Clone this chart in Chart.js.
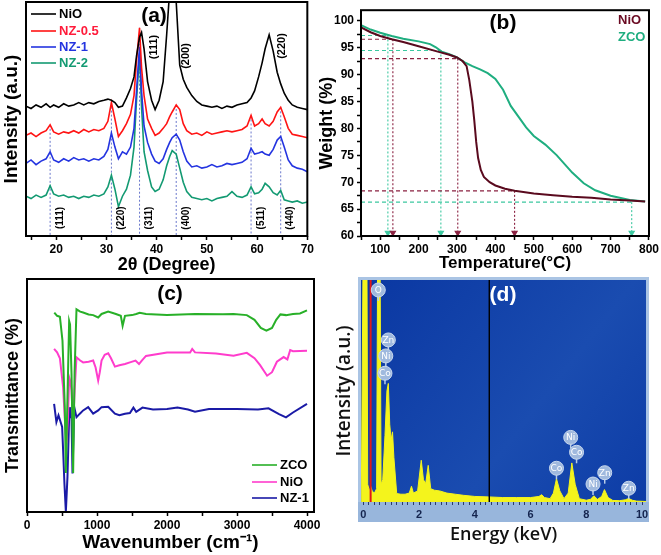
<!DOCTYPE html>
<html>
<head>
<meta charset="utf-8">
<script src="https://cdn.jsdelivr.net/npm/chart.js@4.4.0/dist/chart.umd.min.js"></script>
<style>
body { margin: 0; background: #fff; width: 661px; height: 555px; position: relative; overflow: hidden; }
canvas { position: absolute; }
</style>
</head>
<body>
<canvas id="xrd" width="316" height="278" style="left:0;top:0"></canvas>
<canvas id="tga" width="345" height="278" style="left:316px;top:0"></canvas>
<canvas id="ftir" width="330" height="278" style="left:0;top:277px"></canvas>
<canvas id="edx" width="331" height="279" style="left:330px;top:276px"></canvas>
<script>
// ---- (a) XRD ----
var xrdAngle = [14, 15, 16, 17, 18, 18.8, 19.5, 20.5, 21.5, 22.5, 23.5, 24.5, 25.5, 26.5, 27.5, 28.5, 29.5,
  30.3, 31.0, 31.7, 32.4, 33.2, 34, 34.8, 35.5, 36, 36.6, 37.0, 37.5, 38.2, 39, 39.7, 40.5, 41.3, 42, 42.6, 43.1,
  43.9, 44.6, 45.3, 46, 47, 48, 49, 50, 51, 52, 53, 54, 55, 56, 57, 58, 58.8, 59.5, 60.3, 61, 61.6, 62.4, 63.2, 64,
  64.7, 65.4, 66.2, 67, 68, 69, 70];
var nioXrd = [55.5, 54.5, 56, 55, 56.5, 55, 56, 55, 56.5, 55.5, 56, 57, 56, 57, 56.5, 57.5, 58,
  58.5, 58, 57, 55, 55.5, 59, 63, 68, 77, 85, 87, 80, 66, 58, 54, 58, 66, 86, 105, 112,
  100, 73, 67, 63.5, 60, 57.5, 56, 55.5, 55, 55.5, 54.5, 55.5, 55, 56, 56.5, 57, 59, 62, 68, 74, 80, 86, 79, 70,
  65, 61, 58, 56, 55, 54.5, 54];
var nz05Xrd = [43, 44, 42.5, 44, 45, 47.5, 44.5, 43.5, 44.5, 44, 45, 44, 45.5, 44.5, 45.5, 45, 46,
  49, 57, 50, 42.5, 45, 48, 52, 60, 75, 89, 72, 60, 50, 46, 43, 44, 46, 48, 51, 53,
  56, 54, 48, 45, 43.5, 44, 43, 44.5, 43.5, 44, 44.5, 45, 44.5, 45, 45.5, 47, 51.5, 47, 48, 50, 48, 47, 49, 53,
  55, 51, 46, 43.5, 43, 42.5, 42];
var nz1Xrd = [31, 32.5, 30.5, 32, 33, 36, 32.5, 31.5, 33, 32, 33.5, 32.5, 33, 32, 33, 32.5, 34,
  37, 44, 38, 33, 36, 35, 38, 46, 62, 81, 62, 47, 40, 35, 32, 31, 33, 37, 40, 42,
  43.5, 41, 36, 32, 29.5, 30, 29, 29.5, 30.5, 29.5, 30, 31, 30.5, 31, 31.5, 33, 37.5, 35, 35.5, 36, 35, 34.5, 37, 41,
  42.5, 38, 32.5, 30, 29, 28.5, 27.5];
var nz2Xrd = [17, 16, 17.5, 16.5, 17.5, 21.5, 18, 17, 17.5, 16.5, 17, 16, 17, 16.5, 17.5, 17, 18,
  21, 26, 20, 12.5, 17, 20, 26, 38, 58, 78, 55, 36, 28, 21, 19, 20, 24, 30, 34, 36.5,
  35, 29, 23, 19, 16.5, 16, 15.5, 16, 15, 16, 16.5, 17, 19, 17, 16.5, 17.5, 21, 18, 18.5, 20, 22.5, 21, 18.5, 17.5,
  19.5, 15.5, 15, 14.5, 15, 14, 14.5];
var spinelAngle = [18.8, 31.0, 36.6, 43.9, 58.8, 64.7];
var spinelTop = [47.5, 57, 89, 56, 51.5, 55];
var spinelHkl = ['(111)', '(220)', '(311)', '(400)', '(511)', '(440)'];
var nioHklAt = [39.5, 45.8, 64.9];
var nioHkl = ['(111)', '(200)', '(220)'];
var xrdTicks = [15, 20, 25, 30, 35, 40, 45, 50, 55, 60, 65, 70];
var xrdLabels = [20, 30, 40, 50, 60, 70];

// ---- (b) TGA ----
var nioTemp = [50, 75, 100, 130, 160, 200, 250, 280, 300, 315, 325, 332, 340, 345, 350, 355, 362, 370, 385, 400,
  425, 450, 500, 550, 600, 650, 700, 750, 790];
var nioWeight = [98.8, 97.9, 97.2, 96.6, 96.1, 95.3, 94.3, 93.7, 93.2, 92.5, 91.6, 89, 85, 81.5, 77.5, 74.5, 72.3,
  71, 70, 69.4, 68.8, 68.4, 67.9, 67.6, 67.3, 67.1, 66.8, 66.6, 66.4];
var zcoTemp = [50, 75, 100, 130, 160, 200, 230, 245, 260, 280, 300, 320, 340, 360, 380, 400, 420, 440, 460, 480,
  500, 530, 560, 600, 630, 660, 700, 750, 790];
var zcoWeight = [99.2, 98.4, 97.8, 97.2, 96.7, 96.2, 95.7, 95.1, 94.3, 93.8, 93.2, 92.3, 91.6, 91.0, 90.3, 89.2,
  87.2, 84.2, 82.2, 80.2, 78.6, 77.0, 75.0, 71.8, 69.8, 68.5, 67.5, 66.7, 66.4];
var nioMarkT = [133, 302, 450];
var nioMarkW = [96.6, 93.0, 68.4];
var zcoMarkT = [120, 258, 755];
var zcoMarkW = [97.3, 94.5, 66.3];
var tempTicks = [50, 100, 150, 200, 250, 300, 350, 400, 450, 500, 550, 600, 650, 700, 750, 800];
var weightTicks = [60, 62.5, 65, 67.5, 70, 72.5, 75, 77.5, 80, 82.5, 85, 87.5, 90, 92.5, 95, 97.5, 100];

// ---- (c) FTIR ----
var zcoWn = [390, 430, 470, 507, 540, 555, 575, 602, 615, 636, 659, 680, 707, 760, 802, 880, 945, 1017, 1065, 1160,
  1270, 1340, 1366, 1400, 1500, 1560, 1610, 1700, 2000, 2400, 2800, 2950, 3140, 3250, 3340, 3420, 3500, 3560,
  3620, 3700, 3800, 3900, 4000];
var zcoFt = [85.6, 84.2, 83.8, 73.5, 45, 16.7, 45, 82, 80.5, 59.4, 16.7, 60, 87, 86, 85.6, 84.8, 84.5, 83.5, 85, 86,
  85, 84.2, 79.9, 84.2, 84.5, 85, 85.5, 85, 84.5, 85, 84.9, 85, 84.5, 82.5, 79, 77.8, 79, 82.5,
  84.8, 84.5, 85, 85.2, 86.5];
var nioWn = [387, 430, 470, 516, 540, 564, 585, 602, 620, 636, 659, 680, 707, 760, 802, 880, 945, 980, 1017, 1040,
  1065, 1110, 1160, 1200, 1256, 1320, 1400, 1470, 1550, 1600, 1640, 1700, 2000, 2330, 2360, 2400, 2700, 2950,
  3140, 3250, 3330, 3430, 3500, 3570, 3666, 3720, 3760, 3800, 4000];
var nioFt = [70, 68.5, 66, 53.5, 40, 29.5, 40, 57.8, 56, 52.1, 38, 52, 66.4, 65, 64.2, 64.5, 65, 62, 56.4, 60,
  65, 67.5, 68.1, 66, 62.4, 63, 63.5, 64.2, 65, 63.5, 65, 67, 68.5, 68.5, 70, 68.5, 68, 67.1,
  68.3, 66, 63, 58.5, 60, 64.5, 66.5, 65.5, 69.5, 69, 69.2];
var nz1Wn = [387, 420, 450, 502, 516, 535, 555, 578, 602, 612, 636, 650, 675, 707, 755, 802, 874, 945, 1017, 1065,
  1160, 1256, 1320, 1400, 1470, 1520, 1560, 1650, 1800, 2000, 2150, 2300, 2400, 2600, 3000, 3300, 3450, 3600,
  3700, 3800, 4000];
var nz1Ft = [46.4, 38.6, 41.5, 36.5, 26.5, 12, 0.1, 15, 40.7, 45, 40.7, 16.5, 45, 40.7, 42.2, 43.6, 45, 42.2, 43.6, 45,
  45.2, 42.2, 41.5, 42.2, 42.5, 44.8, 43, 44.8, 44, 44.2, 44.8, 44, 43, 44.2, 44.2, 44, 44.5, 42,
  40.6, 42.7, 46.4];
var wnTicks = [0, 500, 1000, 1500, 2000, 2500, 3000, 3500, 4000];
var wnLabels = [0, 1000, 2000, 3000, 4000];

// ---- (d) EDX ----
var edxKeV = [-0.07, 0.0, 0.02, 0.13, 0.16, 0.22, 0.27, 0.32, 0.4, 0.48, 0.52, 0.55, 0.6, 0.64, 0.7, 0.78, 0.85, 0.9,
  0.95, 1.0, 1.05, 1.1, 1.2, 1.35, 1.5, 1.65, 1.73, 1.8, 1.95, 2.08, 2.16, 2.24, 2.33, 2.42, 2.55, 2.74, 3.0, 3.3,
  3.6, 4.0, 4.5, 5.0, 5.5, 6.0, 6.3, 6.4, 6.5, 6.7, 6.82, 6.93, 7.05, 7.2, 7.35, 7.48, 7.6, 7.75, 8.0, 8.15, 8.27,
  8.4, 8.55, 8.65, 8.78, 8.95, 9.2, 9.4, 9.52, 9.65, 9.8, 10.0, 10.15];
var edxCounts = [0, 120, 120, 120, 8, 5, 7, 5, 4, 6, 120, 120, 120, 8, 10, 30, 50, 53.4,
  35, 28, 31.6, 20, 3.8, 3.5, 3.5, 4, 7.1, 4, 5, 18.8, 10, 8.3, 16.5, 6, 5.3, 5, 4, 3.5,
  3, 2.5, 2.3, 2, 2, 2, 2.5, 3.3, 2, 1.5, 4, 10.5, 5, 1.5, 4, 17.6, 8, 1.5, 0.8, 1.2, 2.8,
  1.2, 2.5, 5.6, 2, 0.7, 0.6, 1, 1.6, 0.8, 0.4, 0.3, 0.2];
var edxTag = ['O', 'Zn', 'Ni', 'Co', 'Co', 'Ni', 'Co', 'Ni', 'Zn', 'Zn'];
var edxTagKeV = [0.54, 0.9, 0.81, 0.78, 6.93, 7.44, 7.65, 8.24, 8.66, 9.52];
var edxTagY = [95.5, 73, 65.8, 58, 15.2, 29.1, 22.4, 8.1, 13.2, 6.2];
var edxRedLine = 0.265;
var edxBlackLine = 4.52;
var edxLabels = [0, 2, 4, 6, 8, 10];

Chart.defaults.font.family = '"Liberation Sans", Arial, sans-serif';
Chart.defaults.font.weight = 'bold';
Chart.defaults.color = '#000';
Chart.defaults.animation = false;
Chart.defaults.plugins.legend.display = false;
Chart.defaults.plugins.tooltip.enabled = false;
Chart.defaults.elements.point.radius = 0;
Chart.defaults.elements.line.tension = 0;

function pts(xs, ys) { return xs.map(function (x, i) { return { x: x, y: ys[i] }; }); }

function bottomAxis(min, max, marks, labels, title, titlePad, h, size) {
  return {
    type: 'linear', min: min, max: max,
    afterBuildTicks: function (s) { s.ticks = marks.map(function (v) { return { value: v }; }); },
    afterFit: function (s) { s.height = h; },
    ticks: { autoSkip: false, maxRotation: 0, padding: 2, font: { size: 12, weight: 'bold' },
      callback: function (v) { return labels.indexOf(v) >= 0 ? String(v) : ''; } },
    grid: { drawOnChartArea: false, tickLength: 4, tickWidth: 1.5, tickColor: '#000' },
    border: { display: false },
    title: { display: true, text: title, font: { size: size || 18, weight: 'bold' }, padding: { top: 0, bottom: titlePad } }
  };
}

function sideAxis(min, max, title, size, pad, w) {
  return {
    type: 'linear', min: min, max: max,
    afterFit: function (s) { s.width = w; },
    ticks: { display: false }, grid: { display: false }, border: { display: false },
    title: { display: true, text: title, font: { size: size, weight: 'bold' }, padding: { top: pad, bottom: 0 } }
  };
}

var frame = {
  id: 'frame',
  afterDraw: function (chart) {
    var ctx = chart.ctx, a = chart.chartArea;
    ctx.save();
    ctx.strokeStyle = '#000';
    ctx.lineWidth = 2;
    ctx.strokeRect(a.left, a.top, a.right - a.left, a.bottom - a.top);
    ctx.restore();
  }
};

function notes(items) {
  return {
    id: 'notes',
    afterDraw: function (chart) {
      var ctx = chart.ctx, a = chart.chartArea, sx = chart.scales.x;
      items.forEach(function (n) {
        var px = n.at !== undefined ? sx.getPixelForValue(n.at) + (n.dx || 0) : a.left + n.x;
        var py = a.top + n.y;
        ctx.save();
        ctx.translate(px, py);
        if (n.line) {
          ctx.strokeStyle = n.line;
          ctx.lineWidth = 1.6;
          ctx.beginPath(); ctx.moveTo(-28, 0); ctx.lineTo(-3, 0); ctx.stroke();
        }
        if (n.rot) ctx.rotate(n.rot);
        ctx.font = n.font;
        ctx.fillStyle = n.color || '#000';
        ctx.textAlign = n.align || 'left';
        ctx.textBaseline = 'middle';
        ctx.fillText(n.text, 0, 0);
        ctx.restore();
      });
    }
  };
}

// (a)
var xrdSets = [
  { data: pts(xrdAngle, nioXrd), borderColor: '#000000', borderWidth: 1.6 },
  { data: pts(xrdAngle, nz05Xrd), borderColor: '#ff1414', borderWidth: 1.6 },
  { data: pts(xrdAngle, nz1Xrd), borderColor: '#2434e0', borderWidth: 1.6 },
  { data: pts(xrdAngle, nz2Xrd), borderColor: '#139a72', borderWidth: 1.6 }
];
spinelAngle.forEach(function (t, i) {
  xrdSets.push({ data: [{ x: t, y: spinelTop[i] }, { x: t, y: 0 }], borderColor: '#6a78cc', borderWidth: 1, borderDash: [2, 2] });
});
var xrdNotes = [
  { text: '(a)', x: 128, y: 14, align: 'center', font: 'bold 21px "Liberation Sans"' },
  { text: 'NiO', x: 33, y: 12, line: '#000', font: 'bold 13px "Liberation Sans"' },
  { text: 'NZ-0.5', x: 33, y: 29, line: '#ff1414', color: '#ff1a3a', font: 'bold 13px "Liberation Sans"' },
  { text: 'NZ-1', x: 33, y: 45, line: '#2434e0', color: '#2434e0', font: 'bold 13px "Liberation Sans"' },
  { text: 'NZ-2', x: 33, y: 61, line: '#139a72', color: '#139a72', font: 'bold 13px "Liberation Sans"' }
];
nioHkl.forEach(function (h, i) {
  xrdNotes.push({ text: h, at: nioHklAt[i], y: [45, 54, 44][i], rot: -Math.PI / 2, align: 'center', font: 'bold 11px "Liberation Sans"' });
});
spinelHkl.forEach(function (h, i) {
  xrdNotes.push({ text: h, at: spinelAngle[i], dx: 10, y: 216, rot: -Math.PI / 2, align: 'center', font: 'bold 10px "Liberation Sans"' });
});
new Chart('xrd', {
  type: 'line',
  data: { datasets: xrdSets },
  options: {
    responsive: false,
    layout: { padding: { top: 2, right: 3, left: 0, bottom: 0 } },
    scales: {
      x: bottomAxis(14, 70, xrdTicks, xrdLabels, '2θ (Degree)', 2, 42),
      y: sideAxis(0, 100, 'Intensity (a.u.)', 19, 0, 26)
    }
  },
  plugins: [frame, notes(xrdNotes)]
});

// (b)
var tgaSets = [
  { data: pts(nioTemp, nioWeight), borderColor: '#5a0a1e', borderWidth: 2 },
  { data: pts(zcoTemp, zcoWeight), borderColor: '#1fae80', borderWidth: 2 }
];
function guides(ts, ws, col) {
  ts.forEach(function (t, i) {
    tgaSets.push({ data: [{ x: 50, y: ws[i] }, { x: t, y: ws[i] }], borderColor: col, borderWidth: 1.1, borderDash: [4, 3] });
    tgaSets.push({ data: [{ x: t, y: ws[i] }, { x: t, y: 60.6 }], borderColor: col, borderWidth: 1.1, borderDash: [2, 2],
      pointRadius: [0, 3], pointStyle: 'triangle', rotation: 180, pointBackgroundColor: col, pointBorderColor: col, clip: false });
  });
}
guides(nioMarkT, nioMarkW, '#8a2040');
guides(zcoMarkT, zcoMarkW, '#3cc8a0');
new Chart('tga', {
  type: 'line',
  data: { datasets: tgaSets },
  options: {
    responsive: false,
    layout: { padding: { top: 2, right: 12, left: 0, bottom: 0 } },
    scales: {
      x: bottomAxis(50, 800, tempTicks, [100, 200, 300, 400, 500, 600, 700, 800], 'Temperature(°C)', 4, 42, 17),
      y: {
        type: 'linear', min: 60, max: 102,
        afterBuildTicks: function (s) { s.ticks = weightTicks.map(function (v) { return { value: v }; }); },
        afterFit: function (s) { s.width = 45; },
        ticks: { autoSkip: false, padding: 3, font: { size: 12, weight: 'bold' },
          callback: function (v) { return v % 5 === 0 ? String(v) : ''; } },
        grid: { drawOnChartArea: false, tickLength: 4, tickWidth: 1.5, tickColor: '#000' },
        border: { display: false },
        title: { display: true, text: 'Weight (%)', font: { size: 18, weight: 'bold' }, padding: { top: 0, bottom: 0 } }
      }
    }
  },
  plugins: [frame, notes([
    { text: '(b)', x: 142, y: 13, align: 'center', font: 'bold 21px "Liberation Sans"' },
    { text: 'NiO', x: 257, y: 10, color: '#6a0a22', font: 'bold 13px "Liberation Sans"' },
    { text: 'ZCO', x: 257, y: 27, color: '#1fae80', font: 'bold 13px "Liberation Sans"' }
  ])]
});

// (c)
new Chart('ftir', {
  type: 'line',
  data: {
    datasets: [
      { data: pts(zcoWn, zcoFt), borderColor: '#28b028', borderWidth: 2 },
      { data: pts(nioWn, nioFt), borderColor: '#ff3ccc', borderWidth: 2 },
      { data: pts(nz1Wn, nz1Ft), borderColor: '#1a1aa6', borderWidth: 2 }
    ]
  },
  options: {
    responsive: false,
    layout: { padding: { top: 2, right: 16, left: 0, bottom: 0 } },
    scales: {
      x: bottomAxis(0, 4100, wnTicks, wnLabels, 'Wavenumber (cm⁻¹)', 1, 43, 19),
      y: sideAxis(0, 100, 'Transmittance (%)', 18, 2, 27)
    }
  },
  plugins: [frame, notes([
    { text: '(c)', x: 143, y: 15, align: 'center', font: 'bold 21px "Liberation Sans"' },
    { text: 'ZCO', x: 253, y: 186, line: '#28b028', font: 'bold 13px "Liberation Sans"' },
    { text: 'NiO', x: 253, y: 203, line: '#ff3ccc', font: 'bold 13px "Liberation Sans"' },
    { text: 'NZ-1', x: 253, y: 219, line: '#1a1aa6', font: 'bold 13px "Liberation Sans"' }
  ])]
});

// (d)
var edxBack = {
  id: 'edxBack',
  beforeDraw: function (chart) {
    var ctx = chart.ctx, a = chart.chartArea;
    ctx.save();
    ctx.fillStyle = '#aac4e4';
    ctx.fillRect(a.left - 3, a.top - 3, a.right - a.left + 6, a.bottom - a.top + 23);
    ctx.fillStyle = '#98b6dc';
    ctx.fillRect(a.left - 3, a.bottom, a.right - a.left + 6, 20);
    var g = ctx.createLinearGradient(a.left, a.top, a.right, a.bottom);
    g.addColorStop(0, '#0a37a2');
    g.addColorStop(0.6, '#1a4cb0');
    g.addColorStop(1, '#0d3ca6');
    ctx.fillStyle = g;
    ctx.fillRect(a.left, a.top, a.right - a.left, a.bottom - a.top);
    ctx.restore();
  }
};
var edxBubbles = {
  id: 'edxBubbles',
  afterDatasetsDraw: function (chart) {
    var ctx = chart.ctx, sx = chart.scales.x, sy = chart.scales.y;
    edxTag.forEach(function (t, i) {
      var px = sx.getPixelForValue(edxTagKeV[i]), py = sy.getPixelForValue(edxTagY[i]);
      ctx.save();
      ctx.strokeStyle = '#b8cde8';
      ctx.lineWidth = 1.5;
      ctx.beginPath(); ctx.moveTo(px, py + 6); ctx.lineTo(px, py + 11); ctx.stroke();
      ctx.beginPath(); ctx.arc(px, py, 7, 0, Math.PI * 2);
      ctx.fillStyle = 'rgba(168,192,224,0.95)';
      ctx.fill();
      ctx.strokeStyle = '#c8d8ee';
      ctx.lineWidth = 1;
      ctx.stroke();
      ctx.fillStyle = '#ffffff';
      ctx.font = '9px "DejaVu Sans"';
      ctx.textAlign = 'center';
      ctx.textBaseline = 'middle';
      ctx.fillText(t, px, py + 0.5);
      ctx.restore();
    });
  }
};
new Chart('edx', {
  type: 'line',
  data: {
    datasets: [
      { data: [{ x: edxRedLine, y: 0 }, { x: edxRedLine, y: 100 }], borderColor: '#e01818', borderWidth: 2 },
      { data: [{ x: edxBlackLine, y: 0 }, { x: edxBlackLine, y: 100 }], borderColor: '#000000', borderWidth: 1.4 },
      { data: pts(edxKeV, edxCounts), borderColor: '#f4f41c', backgroundColor: '#f4f41c', borderWidth: 1, fill: 'origin' }
    ]
  },
  options: {
    responsive: false,
    layout: { padding: { top: 4, right: 15, left: 0, bottom: 0 } },
    scales: {
      x: {
        type: 'linear', min: -0.08, max: 10.14,
        afterBuildTicks: function (s) {
          var t = [];
          for (var i = 0; i <= 50; i++) t.push({ value: Math.round(i * 2) / 10 });
          s.ticks = t;
        },
        afterFit: function (s) { s.height = 53; },
        ticks: { autoSkip: false, maxRotation: 0, padding: 3, color: '#14244e', font: { size: 11, weight: 'bold' },
          callback: function (v) { return edxLabels.indexOf(v) >= 0 ? String(v) : ''; } },
        grid: { drawOnChartArea: false, tickLength: 3, tickWidth: 1, tickColor: '#2a3a6a' },
        border: { display: false },
        title: { display: true, text: 'Energy (keV)', color: '#111', font: { family: '"Open Sans"', size: 18, weight: '600' }, padding: { top: 0, bottom: 9 } }
      },
      y: {
        type: 'linear', min: 0, max: 100,
        afterFit: function (s) { s.width = 31; },
        ticks: { display: false }, grid: { display: false }, border: { display: false },
        title: { display: true, text: 'Intensity (a.u.)', color: '#111', font: { family: '"Open Sans"', size: 19, weight: '600' }, padding: { top: 3, bottom: 0 } }
      }
    }
  },
  plugins: [edxBack, edxBubbles, notes([
    { text: '(d)', x: 142, y: 15, align: 'center', color: '#ffffff', font: 'bold 21px "Liberation Sans"' }
  ])]
});
</script>
</body>
</html>
